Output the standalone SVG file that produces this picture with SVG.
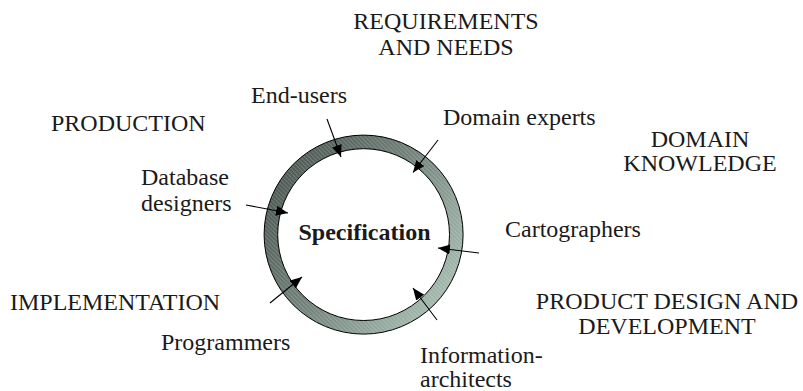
<svg xmlns="http://www.w3.org/2000/svg" width="803" height="391" viewBox="0 0 803 391" font-family="'Liberation Serif', 'DejaVu Serif', serif">
<style>
text{font-family:'Liberation Serif','DejaVu Serif',serif;font-size:24px;fill:#1a1a1a}
.b{font-weight:bold}
.m{text-anchor:middle}
.c{stroke:#000;stroke-width:1.1;fill:none}
</style>
<defs>
<linearGradient id="g" x1="0" y1="0.15" x2="1" y2="0.85">
<stop offset="0" stop-color="#4a5550"/>
<stop offset="0.5" stop-color="#74857d"/>
<stop offset="1" stop-color="#a9c0b4"/>
</linearGradient>
<pattern id="h" width="3" height="3" patternUnits="userSpaceOnUse" patternTransform="rotate(45)">
<rect width="3" height="1" fill="#ffffff" fill-opacity="0.18"/>
</pattern>
<marker id="a" viewBox="0 0 12 10" refX="12" refY="5" markerWidth="12" markerHeight="10" markerUnits="userSpaceOnUse" orient="auto">
<path d="M0,0 L12,5 L0,10 Z" fill="#000"/>
</marker>
</defs>
<g id="ring">
<circle cx="363.6" cy="234.6" r="92.7" fill="none" stroke="url(#g)" stroke-width="13.6"/>
<circle cx="363.6" cy="234.6" r="92.7" fill="none" stroke="url(#h)" stroke-width="13.6"/>
<circle cx="363.6" cy="234.6" r="99.5" fill="none" stroke="#000" stroke-width="1"/>
<circle cx="363.6" cy="234.6" r="85.9" fill="none" stroke="#000" stroke-width="1"/>
<text class="b m" x="364.5" y="240">Specification</text>
</g>
<g id="connectors">
<line class="c" x1="327" y1="119" x2="341" y2="157" marker-end="url(#a)"/>
<line class="c" x1="438" y1="140" x2="413" y2="172.5" marker-end="url(#a)"/>
<line class="c" x1="246" y1="205" x2="288" y2="213" marker-end="url(#a)"/>
<line class="c" x1="479" y1="253" x2="438" y2="248" marker-end="url(#a)"/>
<line class="c" x1="437" y1="320" x2="413" y2="288" marker-end="url(#a)"/>
<line class="c" x1="270" y1="303" x2="302" y2="277" marker-end="url(#a)"/>
</g>
<g id="requirements"><text class="m" x="446" y="29">REQUIREMENTS</text><text class="m" x="446" y="55">AND NEEDS</text></g>
<g id="production"><text x="51" y="131">PRODUCTION</text></g>
<g id="domain"><text class="m" x="700" y="147">DOMAIN</text><text class="m" x="700" y="171">KNOWLEDGE</text></g>
<g id="implementation"><text x="10" y="310">IMPLEMENTATION</text></g>
<g id="product"><text class="m" x="667" y="309">PRODUCT DESIGN AND</text><text class="m" x="667" y="334">DEVELOPMENT</text></g>
<g id="end-users"><text x="251" y="103">End-users</text></g>
<g id="domain-experts"><text x="443" y="125">Domain experts</text></g>
<g id="database-designers"><text x="141" y="185">Database</text><text x="141" y="211">designers</text></g>
<g id="cartographers"><text x="505" y="237">Cartographers</text></g>
<g id="information-architects"><text x="420" y="363">Information-</text><text x="420" y="387">architects</text></g>
<g id="programmers"><text x="161" y="350">Programmers</text></g>
</svg>
